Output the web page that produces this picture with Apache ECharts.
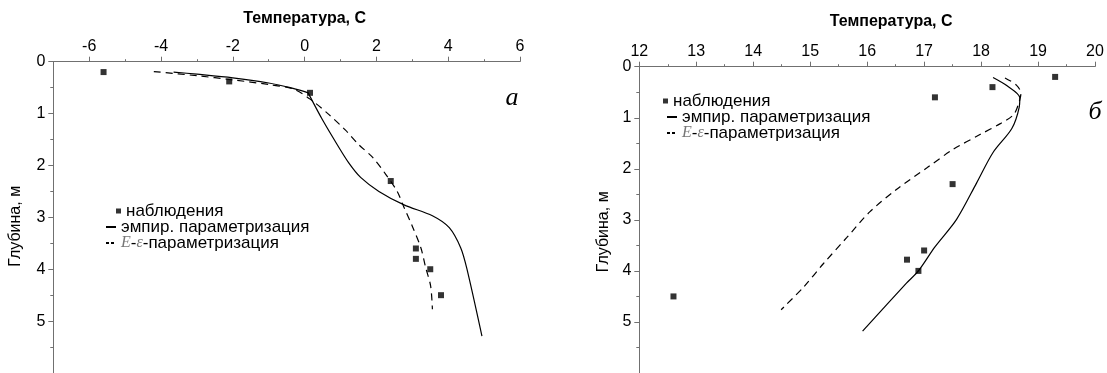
<!DOCTYPE html>
<html>
<head>
<meta charset="utf-8">
<script src="https://cdn.jsdelivr.net/npm/echarts@6/dist/echarts.min.js"></script>
<style>html,body{margin:0;padding:0;background:#fff;}#c{width:1107px;height:373px;}</style>
</head>
<body>
<div id="c"></div>
<script>
// ---- data ----
const seriesNames = ['наблюдения', 'эмпир. параметризация', 'E-ε-параметризация'];
const xName = 'Температура, С';
const yName = 'Глубина, м';

// panel а
const tempTicksA = [-6, -4, -2, 0, 2, 4, 6];
const tempMinorA = [-5, -3, -1, 1, 3, 5];
const obsA = [[-5.6, 0.2], [-2.1, 0.38], [0.15, 0.6], [2.4, 2.3], [3.1, 3.6], [3.1, 3.8], [3.5, 4.0], [3.8, 4.5]];
const empA = [[-3.65, 0.2], [-3.0, 0.24], [-2.0, 0.31], [-1.0, 0.41], [-0.4, 0.5], [0.1, 0.6], [0.12, 0.63], [0.49, 1.11], [0.91, 1.6], [1.24, 1.96], [1.56, 2.23], [2.07, 2.5], [2.77, 2.76], [3.56, 2.97], [4.03, 3.2], [4.35, 3.59], [4.52, 3.99], [4.94, 5.29]];
const eeA = [[-4.2, 0.19], [-3.0, 0.27], [-2.0, 0.35], [-1.0, 0.44], [-0.3, 0.53], [0.21, 0.75], [0.68, 1.02], [1.14, 1.32], [1.51, 1.6], [1.89, 1.84], [2.26, 2.17], [2.58, 2.5], [2.77, 2.81], [3.0, 3.17], [3.24, 3.59], [3.37, 3.96], [3.51, 4.32], [3.56, 4.77]];

// panel б
const tempTicksB = [12, 13, 14, 15, 16, 17, 18, 19, 20];
const tempMinorB = [12.5, 13.5, 14.5, 15.5, 16.5, 17.5, 18.5, 19.5];
const obsB = [[19.3, 0.2], [18.2, 0.4], [17.19, 0.6], [17.5, 2.3], [17.0, 3.6], [16.7, 3.78], [16.9, 4.0], [12.6, 4.5]];
const empB = [[18.21, 0.21], [18.45, 0.37], [18.68, 0.61], [18.67, 0.79], [18.54, 1.21], [18.21, 1.68], [17.92, 2.28], [17.57, 2.99], [17.19, 3.53], [16.9, 4.0], [16.69, 4.24], [15.92, 5.18]];
const eeB = [[18.42, 0.22], [18.62, 0.36], [18.7, 0.52], [18.66, 0.72], [18.57, 0.94], [18.33, 1.12], [17.98, 1.33], [17.51, 1.62], [17.05, 1.98], [16.52, 2.4], [16.05, 2.84], [15.64, 3.35], [15.23, 3.86], [14.89, 4.31], [14.49, 4.76]];

const depthTicks = [0, 1, 2, 3, 4, 5];
const depthMinor = [0.5, 1.5, 2.5, 3.5, 4.5, 5.5];

// ---- chart ----
const FONT = '"Liberation Sans", Arial, sans-serif';
const AX = '#707070';
const chart = echarts.init(document.getElementById('c'), null, {renderer: 'canvas'});

function xMain(grid, min, max, ticks, nameGap, namePad) {
  return {gridIndex: grid, type: 'value', position: 'top', min: min, max: max,
     name: xName, nameLocation: 'middle', nameGap: nameGap,
     nameTextStyle: {fontFamily: FONT, fontWeight: 'bold', fontSize: 16, color: '#000', padding: [0, 0, 0, namePad]},
     axisLine: {show: true, onZero: false, lineStyle: {color: AX, width: 1}},
     axisTick: {show: true, length: 5, customValues: ticks, lineStyle: {color: AX}},
     axisLabel: {show: true, customValues: ticks, margin: 7, fontFamily: FONT, fontSize: 16, color: '#000'},
     splitLine: {show: false}};
}
function xMinor(grid, min, max, minor) {
  return {gridIndex: grid, type: 'value', position: 'top', min: min, max: max,
     axisLine: {show: false, onZero: false}, axisLabel: {show: false}, splitLine: {show: false},
     axisTick: {show: true, length: 2.5, customValues: minor, lineStyle: {color: AX}}};
}
function yMain(grid, nameGap, padR) {
  return {gridIndex: grid, type: 'value', inverse: true, min: 0, max: 6, position: 'left',
     name: yName, nameLocation: 'middle', nameGap: nameGap,
     nameTextStyle: {fontFamily: FONT, fontSize: 16, color: '#000', padding: [0, padR, 0, 0]},
     axisLine: {show: true, onZero: false, lineStyle: {color: AX, width: 1}},
     axisTick: {show: true, length: 5, customValues: depthTicks, lineStyle: {color: AX}},
     axisLabel: {show: true, customValues: depthTicks, margin: 8, fontFamily: FONT, fontSize: 16, color: '#000'},
     splitLine: {show: false}};
}
function yMinor(grid) {
  return {gridIndex: grid, type: 'value', inverse: true, min: 0, max: 6, position: 'left',
     axisLine: {show: false, onZero: false}, axisLabel: {show: false}, splitLine: {show: false},
     axisTick: {show: true, length: 3, customValues: depthMinor, lineStyle: {color: AX}}};
}

function seriesFor(ai, obs, emp, ee) {
  return [
    {name: seriesNames[0], type: 'scatter', xAxisIndex: ai, yAxisIndex: ai, data: obs,
     symbol: 'rect', symbolSize: 6, itemStyle: {color: '#000'}, z: 5},
    {name: seriesNames[1], type: 'line', xAxisIndex: ai, yAxisIndex: ai, data: emp,
     showSymbol: false, symbol: 'none', smooth: 0.3, lineStyle: {color: '#000', width: 1.2}, itemStyle: {color: '#000'}},
    {name: seriesNames[2], type: 'line', xAxisIndex: ai, yAxisIndex: ai, data: ee,
     showSymbol: false, symbol: 'none', smooth: 0.3, lineStyle: {color: '#000', width: 1.2, type: [7, 5]}, itemStyle: {color: '#000'}}
  ];
}

const legendText = {fontFamily: FONT, fontSize: 17, color: '#000', lineHeight: 18,
  rich: {i: {fontFamily: '"Liberation Serif", serif', fontStyle: 'italic', fontSize: 16, color: '#777'}}};
function legendFmt(name) {
  if (name === seriesNames[2]) return '{i|E}-{i|ε}-параметризация';
  return name;
}
function legends(l0, l1, t0, t1, t2) {
  return [
    {data: [{name: seriesNames[0], icon: 'rect'}], left: l0, top: t0 - 9, padding: 0, itemWidth: 5, itemHeight: 5, itemGap: 0,
     selectedMode: false, textStyle: legendText, formatter: legendFmt},
    {data: [{name: seriesNames[1], itemStyle: {opacity: 0}}], left: l1, top: t1 - 9, padding: 0, itemWidth: 10, itemHeight: 1, itemGap: 0,
     selectedMode: false, textStyle: legendText, formatter: legendFmt},
    {data: [{name: seriesNames[2], itemStyle: {opacity: 0}, lineStyle: {type: [3, 2]}}], left: l1, top: t2 - 9, padding: 0, itemWidth: 10, itemHeight: 1, itemGap: 0,
     selectedMode: false, textStyle: legendText, formatter: legendFmt}
  ];
}

const gridA = {left: 53.3, top: 61.7, width: 466.7, height: 330.6};
const gridB = {left: 639.3, top: 66.7, width: 455.7, height: 336};

const option = {
  animation: false,
  backgroundColor: '#fff',
  grid: [gridA, gridB, Object.assign({}, gridA), Object.assign({}, gridB)],
  xAxis: [
    xMain(0, -7, 6, tempTicksA, 35, 36),
    xMain(1, 12, 20, tempTicksB, 37, 48),
    xMinor(2, -7, 6, tempMinorA),
    xMinor(3, 12, 20, tempMinorB)
  ],
  yAxis: [yMain(0, 30, 18), yMain(1, 28, 24), yMinor(2), yMinor(3)],
  legend: [].concat(legends(116, 105, 211, 227, 243), legends(663, 666, 101, 117, 133)),
  graphic: [
    {type: 'text', x: 512, y: 98, style: {text: 'а', font: 'italic 26px "Liberation Serif"', fill: '#000', textAlign: 'center', textVerticalAlign: 'middle'}},
    {type: 'text', x: 1095, y: 112, style: {text: 'б', font: 'italic 26px "Liberation Serif"', fill: '#000', textAlign: 'center', textVerticalAlign: 'middle'}}
  ],
  series: [].concat(seriesFor(0, obsA, empA, eeA), seriesFor(1, obsB, empB, eeB))
};
chart.setOption(option);
</script>
</body>
</html>
